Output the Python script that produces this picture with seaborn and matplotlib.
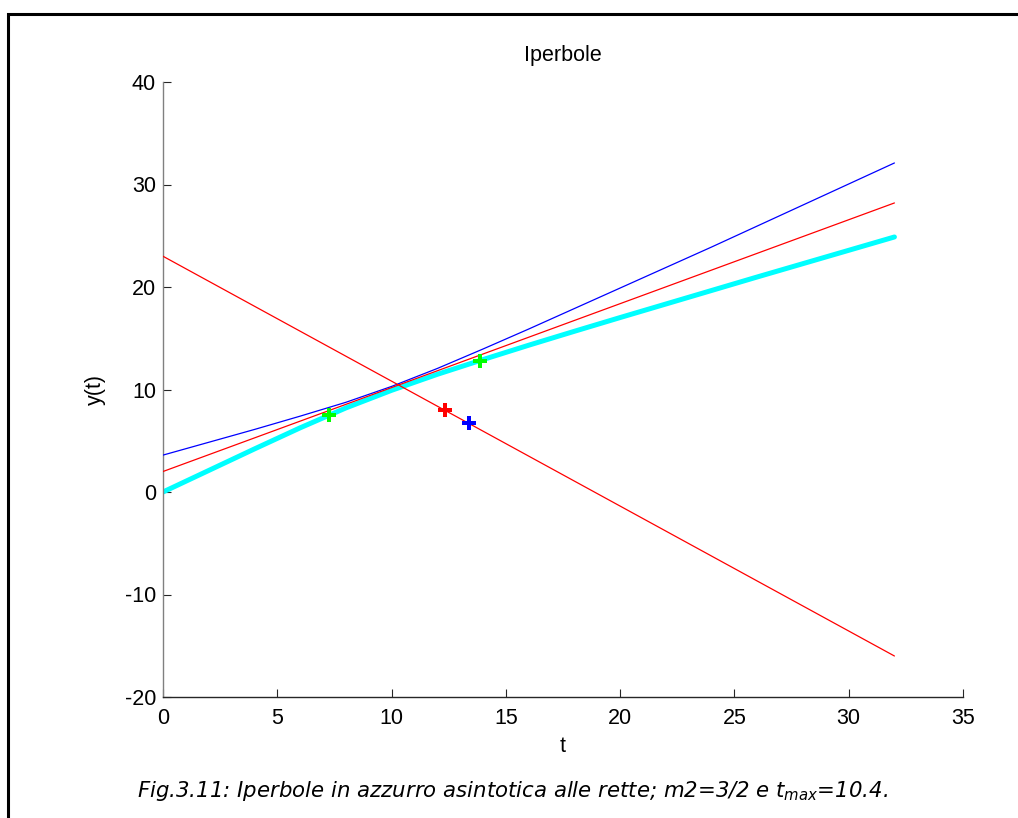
import matplotlib
matplotlib.use("Agg")
import matplotlib.pyplot as plt
import seaborn as sns
import pandas as pd
from matplotlib.lines import Line2D

# ---- data ----
t_lines = [0, 32]
red_up_line = [2.0, 28.2]
red_down_line = [23.0, -16.0]

t_curve = [0, 2, 4, 6, 8, 10, 12, 14, 16, 18, 20, 22, 24, 26, 28, 30, 32]
y_cyan = [0, 2.1, 4.2, 6.26, 8.2, 9.92, 11.48, 12.92, 14.32, 15.68, 17.02, 18.34, 19.66, 20.98, 22.28, 23.58, 24.88]
y_blue = [3.6, 4.85, 6.1, 7.4, 8.75, 10.3, 12.05, 13.95, 15.9, 17.9, 19.9, 21.9, 23.9, 25.95, 28.0, 30.05, 32.1]

green_t = [7.27, 13.87]
green_y = [7.5, 12.8]
red_pt_t = [12.34]
red_pt_y = [8.0]
blue_pt_t = [13.4]
blue_pt_y = [6.76]

x_ticks = [0, 5, 10, 15, 20, 25, 30, 35]
y_ticks = [-20, -10, 0, 10, 20, 30, 40]

title = "Iperbole"
xlabel = "t"
ylabel = "y(t)"
caption = "Fig.3.11: Iperbole in azzurro asintotica alle rette; m2=3/2 e t$_{max}$=10.4."

# ---- style ----
sns.set_theme(style="white")
plt.rcParams["font.family"] = ["Liberation Sans", "DejaVu Sans"]
plt.rcParams["mathtext.default"] = "it"

fig = plt.figure(figsize=(10.18, 8.18), dpi=100)
fig.patch.set_facecolor("white")
W, H = 1018, 818
ax = fig.add_axes([163 / W, 1 - 697 / H, (963 - 163) / W, (697 - 82) / H])
ax.set_facecolor("white")

df = pd.DataFrame({"t": t_curve, "cyan": y_cyan, "blue": y_blue})
sns.lineplot(data=df, x="t", y="cyan", ax=ax, color="#00FFFF", linewidth=3.6, zorder=2)
sns.lineplot(data=df, x="t", y="blue", ax=ax, color="#0000FF", linewidth=0.9, zorder=3)
for yv in [red_up_line, red_down_line]:
    sns.lineplot(x=t_lines, y=yv, ax=ax, color="#FF0000", linewidth=0.9, zorder=3)

for tt, yy, col in [(green_t, green_y, "#00FF00"), (red_pt_t, red_pt_y, "#FF0000"), (blue_pt_t, blue_pt_y, "#0000FF")]:
    sns.scatterplot(x=tt, y=yy, ax=ax, marker="P", s=115, color=col, linewidth=0, zorder=4)

ax.set_xlim(0, 35)
ax.set_ylim(-20, 40)
ax.set_xticks(x_ticks)
ax.set_yticks(y_ticks)
ax.set_xticklabels([str(v) for v in x_ticks])
ax.set_yticklabels([str(v) for v in y_ticks])
ax.set_xlabel("")
ax.set_ylabel("")

for s in ["top", "right"]:
    ax.spines[s].set_visible(False)
ax.spines["left"].set_color("#808080")
ax.spines["bottom"].set_color("#262626")
ax.spines["left"].set_linewidth(1.0)
ax.spines["bottom"].set_linewidth(1.0)

ax.tick_params(axis="both", direction="in", length=6, width=0.8, colors="#262626",
               labelcolor="black", labelsize=15.5)
ax.tick_params(axis="x", pad=8, bottom=True)
ax.tick_params(axis="y", pad=5, left=True)

ax.set_title(title, fontsize=15.5, pad=15, color="black")
ax.set_xlabel(xlabel, fontsize=15.5, color="black")
ax.set_ylabel(ylabel, fontsize=15.5, color="black")
ax.xaxis.set_label_coords(0.5, (697 - 746) / 615)
ax.xaxis.label.set_va("center")
ax.yaxis.set_label_coords((95 - 163) / 800, 0.5)
ax.yaxis.label.set_va("center")
ax.yaxis.label.set_ha("center")

fig.text(512 / W, 1 - 791 / H, caption, ha="center", va="center", fontsize=15.3,
         style="italic", family=["DejaVu Sans"], color="black")

# outer frame (open on right and bottom, as in the reference crop)
frame = Line2D([8 / W, 8 / W, 1.0], [0.0, 1 - 14 / H, 1 - 14 / H], transform=fig.transFigure,
               color="black", linewidth=2.2, solid_joinstyle="miter")
fig.add_artist(frame)

fig.savefig("out.png", dpi=100, facecolor="white")
